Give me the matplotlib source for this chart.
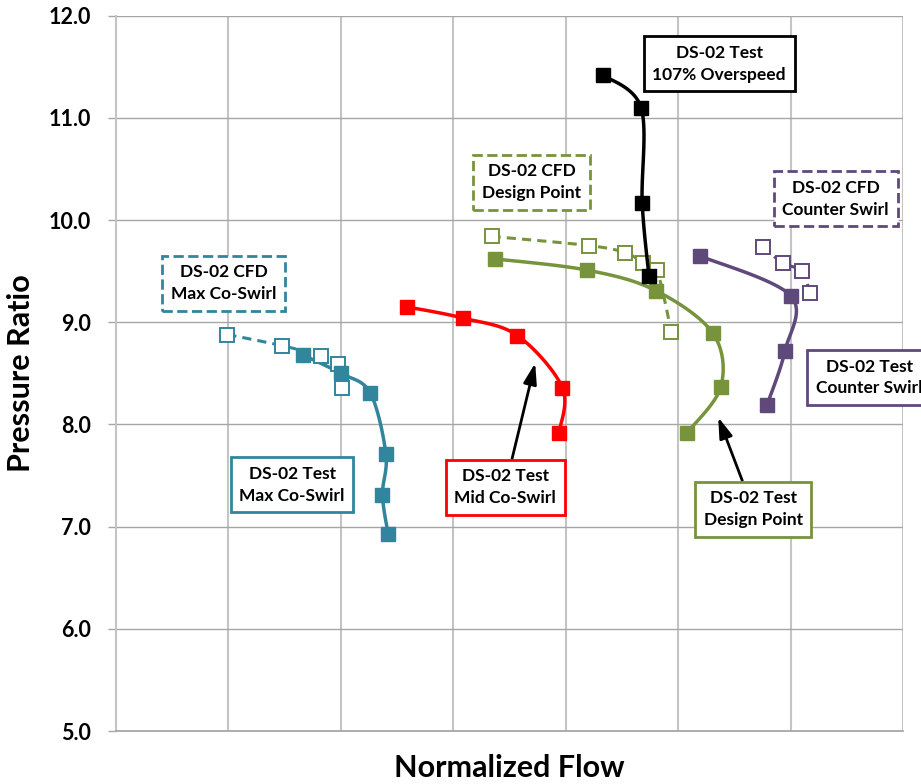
import numpy as np
import matplotlib
matplotlib.use("Agg")
import matplotlib.pyplot as plt

plt.rcParams['font.family'] = ['Lato', 'DejaVu Sans']

# values (x = normalized flow, grid units; y = pressure ratio)
max_co_test_x = [1.66, 2.00, 2.26, 2.40, 2.37, 2.42]
max_co_test_y = [8.68, 8.50, 8.31, 7.71, 7.31, 6.93]
max_co_cfd_x = [0.99, 1.48, 1.82, 1.97, 2.01]
max_co_cfd_y = [8.88, 8.77, 8.67, 8.59, 8.36]

mid_co_test_x = [2.59, 3.09, 3.57, 3.97, 3.94]
mid_co_test_y = [9.15, 9.04, 8.87, 8.36, 7.92]

design_test_x = [3.37, 4.19, 4.80, 5.31, 5.38, 5.08]
design_test_y = [9.62, 9.51, 9.31, 8.89, 8.37, 7.92]
design_cfd_x = [3.34, 4.21, 4.53, 4.69, 4.81, 4.94]
design_cfd_y = [9.84, 9.75, 9.68, 9.58, 9.51, 8.90]

overspeed_x = [4.33, 4.67, 4.68, 4.74]
overspeed_y = [11.42, 11.10, 10.17, 9.45]

counter_test_x = [5.19, 6.00, 5.95, 5.79]
counter_test_y = [9.65, 9.26, 8.72, 8.19]
counter_cfd_x = [5.75, 5.93, 6.10, 6.17]
counter_cfd_y = [9.74, 9.58, 9.50, 9.29]

y_ticks = [5.0, 6.0, 7.0, 8.0, 9.0, 10.0, 11.0, 12.0]

TEAL = '#31859C'
RED = '#FF0000'
GREEN = '#77933C'
PURPLE = '#5F497A'
BLACK = '#000000'

BOX_FONT = dict(fontsize=12.5, fontweight='bold', linespacing=1.45)


def smooth(x, y, n=24):
    # catmull-rom through the points, roughly like excel's smoothed lines
    pts = np.column_stack([x, y]).astype(float)
    p = np.vstack([pts[0], pts, pts[-1]])
    t = np.linspace(0, 1, n)[:, None]
    segs = []
    for i in range(1, len(p) - 2):
        p0, p1, p2, p3 = p[i - 1], p[i], p[i + 1], p[i + 2]
        seg = 0.5 * (2 * p1 + (-p0 + p2) * t
                     + (2 * p0 - 5 * p1 + 4 * p2 - p3) * t ** 2
                     + (-p0 + 3 * p1 - 3 * p2 + p3) * t ** 3)
        segs.append(seg)
    out = np.vstack(segs)
    return out[:, 0], out[:, 1]


def test_series(ax, x, y, color, z=3):
    sx, sy = smooth(x, y)
    ax.plot(sx, sy, color=color, lw=2.5, zorder=z, solid_capstyle='round')
    ax.plot(x, y, ls='none', marker='s', ms=10.5, color=color, zorder=z + 3)


def cfd_series(ax, x, y, color, z=4):
    sx, sy = smooth(x, y)
    ax.plot(sx, sy, color=color, lw=2.2, ls=(0, (3, 2)), zorder=z)
    ax.plot(x, y, ls='none', marker='s', ms=10, mfc='white', mec=color,
            mew=1.4, zorder=z + 1)


def label(ax, x, y, text, color, dashed=False):
    bbox = dict(boxstyle='square,pad=0.5', fc='white', ec=color, lw=2,
                ls='--' if dashed else '-')
    return ax.text(x, y, text, ha='center', va='center', bbox=bbox,
                   zorder=10, clip_on=False, **BOX_FONT)


fig, ax = plt.subplots(figsize=(9.21, 7.84), dpi=100)
fig.subplots_adjust(left=0.126, right=0.9805, bottom=0.0676, top=0.98)

ax.set_xlim(0, 7)
ax.set_ylim(5, 12)
ax.set_xticks(range(0, 8))
ax.set_xticklabels([])
ax.set_yticks(y_ticks)
ax.set_yticklabels(['%.1f' % v for v in y_ticks], fontsize=15.5, fontweight='bold')
ax.tick_params(axis='x', length=0)
ax.tick_params(axis='y', length=6, width=1, color='#A6A6A6', pad=12)

for v in range(1, 8):
    ax.axvline(v, color='#C4C4C4', lw=1.5, zorder=0)
for v in y_ticks[1:]:
    ax.axhline(v, color='#A6A6A6', lw=1, zorder=0)
for s in ['top', 'right']:
    ax.spines[s].set_visible(False)
ax.spines['left'].set_color('#C4C4C4')
ax.spines['left'].set_linewidth(1.5)
ax.spines['bottom'].set_color('#A0A0A0')
ax.spines['bottom'].set_linewidth(1.2)

test_series(ax, max_co_test_x, max_co_test_y, TEAL)
cfd_series(ax, max_co_cfd_x, max_co_cfd_y, TEAL)
test_series(ax, mid_co_test_x, mid_co_test_y, RED)
test_series(ax, design_test_x, design_test_y, GREEN)
cfd_series(ax, design_cfd_x, design_cfd_y, GREEN)
test_series(ax, counter_test_x, counter_test_y, PURPLE)
cfd_series(ax, counter_cfd_x, counter_cfd_y, PURPLE)
test_series(ax, overspeed_x, overspeed_y, BLACK, z=7)

label(ax, 0.956, 9.38, 'DS-02 CFD\nMax Co-Swirl', TEAL, dashed=True)
label(ax, 1.566, 7.41, 'DS-02 Test\nMax Co-Swirl', TEAL)
label(ax, 3.697, 10.37, 'DS-02 CFD\nDesign Point', GREEN, dashed=True)
label(ax, 5.365, 11.53, 'DS-02 Test\n107% Overspeed', BLACK)
label(ax, 6.401, 10.21, 'DS-02 CFD\nCounter Swirl', PURPLE, dashed=True)
label(ax, 6.70, 8.46, 'DS-02 Test\nCounter Swirl', PURPLE)

arrow = dict(arrowstyle='-|>,head_length=1.0,head_width=0.32', color='black',
             lw=2, shrinkA=0, shrinkB=0)
for txt, col, xy, xyt in [('DS-02 Test\nMid Co-Swirl', RED, (3.728, 8.60), (3.461, 7.385)),
                          ('DS-02 Test\nDesign Point', GREEN, (5.356, 8.07), (5.667, 7.17))]:
    ax.annotate(txt, xy=xy, xytext=xyt, ha='center', va='center', zorder=10,
                bbox=dict(boxstyle='square,pad=0.5', fc='white', ec=col, lw=2),
                arrowprops=arrow, **BOX_FONT)

ax.set_ylabel('Pressure Ratio', fontsize=22, fontweight='bold', labelpad=10)
ax.set_xlabel('Normalized Flow', fontsize=22, fontweight='bold', labelpad=13)

fig.savefig('out.png', dpi=100)
